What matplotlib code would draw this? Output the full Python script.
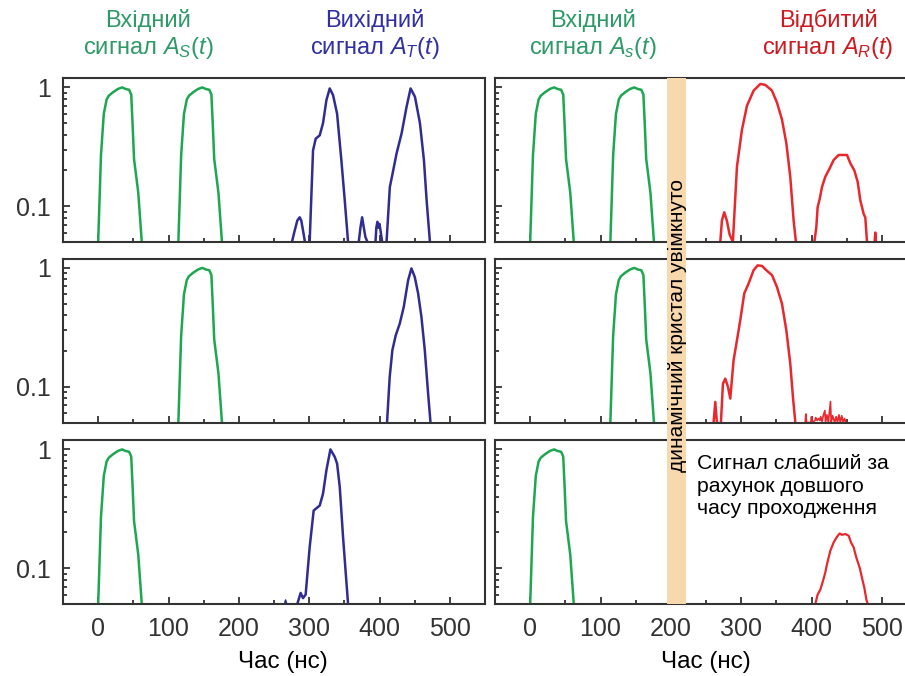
import matplotlib
matplotlib.use("Agg")
import matplotlib.pyplot as plt
import matplotlib.transforms as mtrans
from matplotlib.patches import Rectangle
from matplotlib.ticker import LogLocator, NullFormatter, FixedLocator

plt.rcParams['font.family'] = ['Liberation Sans', 'DejaVu Sans']
plt.rcParams['mathtext.fontset'] = 'custom'
plt.rcParams['mathtext.rm'] = 'Liberation Sans'
plt.rcParams['mathtext.it'] = 'Liberation Sans:italic'

# ---- data (time in ns, normalised amplitude) ----
# input pulses
green_t_a = [0, 4, 8, 12, 15, 21, 28, 34, 39, 44, 47, 49, 51, 57, 62]
green_y_a = [0.05, 0.27, 0.6, 0.79, 0.85, 0.91, 0.97, 1.0, 0.97, 0.955, 0.87, 0.48, 0.25, 0.13, 0.05]
green_t_b = [114, 118, 122, 126, 129, 135, 142, 148, 153, 158, 161, 163, 165, 171, 176]
green_y_b = [0.05, 0.27, 0.6, 0.79, 0.85, 0.91, 0.97, 1.0, 0.97, 0.955, 0.87, 0.48, 0.25, 0.13, 0.05]

# transmitted, row 1
blue1_t_main = [300.7, 305.5, 309.3, 315, 319.7, 324.5, 329.2, 334, 339.7, 345.8, 350.6, 355.3]
blue1_y_main = [0.05, 0.295, 0.37, 0.395, 0.50, 0.78, 0.98, 0.86, 0.60, 0.243, 0.112, 0.05]
blue1_t_second = [410, 414.7, 418.5, 424.2, 431.4, 438.5, 444.2, 450.4, 457.5, 463.2, 467, 471.7]
blue1_y_second = [0.05, 0.145, 0.187, 0.277, 0.41, 0.687, 0.98, 0.834, 0.50, 0.243, 0.112, 0.05]
blue1_t_bump1 = [275.5, 279.3, 283.1, 286.5, 288.8, 292.2, 294]
blue1_y_bump1 = [0.05, 0.062, 0.0757, 0.0807, 0.0757, 0.058, 0.05]
blue1_t_bump2 = [370.5, 372.9, 375.3, 377.7, 380, 382.9]
blue1_y_bump2 = [0.05, 0.066, 0.0807, 0.066, 0.055, 0.05]
blue1_t_bump3 = [394.3, 395.5, 397, 398.5, 400, 401.5, 403.8]
blue1_y_bump3 = [0.05, 0.066, 0.074, 0.066, 0.071, 0.062, 0.05]

# transmitted, row 2
blue2_t = [410.7, 414.5, 418.3, 423.1, 428.8, 434.5, 440.7, 445.4, 450.1, 454.9, 459.6, 464.4, 469.1, 472.5]
blue2_y = [0.05, 0.121, 0.203, 0.271, 0.34, 0.47, 0.787, 0.99, 0.84, 0.61, 0.387, 0.203, 0.0877, 0.05]

# transmitted, row 3
blue3_t = [283.1, 287.9, 291.2, 295, 300.7, 306.4, 315, 319.7, 324.5, 330.2, 336.3, 339.7, 343.5, 348.2, 355.3]
blue3_y = [0.05, 0.062, 0.056, 0.060, 0.15, 0.306, 0.337, 0.424, 0.668, 1.0, 0.867, 0.76, 0.483, 0.182, 0.05]
blue3_t_blip = [265, 266.5, 268]
blue3_y_blip = [0.05, 0.054, 0.05]

# reflected, row 1
red1_t_main = [270.3, 272.6, 275.9, 279.7, 283.5, 288.2, 294, 301.1, 308.2, 317.7, 327.2, 334.3,
               343.8, 350.9, 358, 364.2, 369.8, 374.6, 377.9]
red1_y_main = [0.05, 0.0755, 0.089, 0.0755, 0.058, 0.05, 0.215, 0.44, 0.70, 0.94, 1.07, 1.05,
               0.94, 0.745, 0.537, 0.34, 0.177, 0.0755, 0.05]
red1_t_second = [404, 406.8, 408.7, 411.6, 414.9, 419.6, 425.8, 431.5, 438.6, 450.5, 455.2,
                 460.9, 465.7, 469.4, 474.2, 476.5, 478.9]
red1_y_second = [0.05, 0.066, 0.098, 0.115, 0.145, 0.177, 0.208, 0.245, 0.27, 0.27, 0.23,
                 0.20, 0.16, 0.112, 0.086, 0.0805, 0.05]
red1_t_spike = [489.8, 490.7, 491.5]
red1_y_spike = [0.05, 0.06, 0.05]

# reflected, row 2
red2_t_spike = [260.8, 263.2, 265.5]
red2_y_spike = [0.05, 0.0745, 0.05]
red2_t_main = [271.2, 274.1, 277.4, 281.2, 284.5, 289.2, 294, 298.7, 304.4, 310.6, 317.7, 323.4,
               329.5, 335.7, 343.8, 350.9, 358, 364.2, 369.8, 373.6, 377]
red2_y_main = [0.05, 0.106, 0.117, 0.1, 0.0795, 0.167, 0.246, 0.363, 0.61, 0.74, 0.957, 1.05,
               1.04, 0.957, 0.87, 0.69, 0.5, 0.299, 0.157, 0.082, 0.05]
red2_t_noise = [391, 392, 393, 399, 400, 401, 405, 406, 408, 410, 412, 413, 415, 417, 419, 420,
                422, 424, 427, 428, 430, 433, 435, 437, 439, 441, 443, 445, 447, 449]
red2_y_noise = [0.05, 0.059, 0.05, 0.05, 0.056, 0.05, 0.052, 0.055, 0.052, 0.054, 0.052, 0.056,
                0.051, 0.058, 0.063, 0.05, 0.058, 0.05, 0.075, 0.05, 0.057, 0.05, 0.056, 0.05,
                0.058, 0.05, 0.057, 0.05, 0.054, 0.05]

# reflected, row 3
red3_t = [405.4, 408.7, 412.5, 416.3, 419.6, 422, 426.7, 431.5, 436.2, 440, 443.3, 448.1, 452.8,
          456.1, 459.9, 463.7, 468.5, 471.8, 475.1, 478, 479.9]
red3_y = [0.05, 0.060, 0.066, 0.078, 0.092, 0.108, 0.14, 0.165, 0.184, 0.196, 0.191, 0.194,
          0.188, 0.165, 0.15, 0.123, 0.101, 0.083, 0.0685, 0.0546, 0.05]

x_ticks = [0, 100, 200, 300, 400, 500]
crystal_on = (195, 222)

GREEN = '#1ea650'
BLUE = '#302c92'
RED = '#e8282d'

W, H = 905, 676
fig = plt.figure(figsize=(W / 100, H / 100), dpi=100)

col_left = [63, 495]
col_w = 422
row_top = [78, 258.5, 440]
row_h = 164

axes = []
for r in range(3):
    row = []
    for c in range(2):
        ax = fig.add_axes([col_left[c] / W, 1 - (row_top[r] + row_h) / H, col_w / W, row_h / H])
        ax.set_yscale('log')
        ax.set_ylim(0.05, 1.2)
        ax.set_xlim(-50, 550)
        ax.xaxis.set_major_locator(FixedLocator(x_ticks))
        ax.xaxis.set_minor_locator(FixedLocator([50, 150, 250, 350, 450]))
        ax.yaxis.set_major_locator(FixedLocator([0.1, 1]))
        ax.yaxis.set_minor_locator(LogLocator(base=10, subs=range(2, 10)))
        ax.yaxis.set_minor_formatter(NullFormatter())
        ax.tick_params(which='both', direction='in', top=False, right=False,
                       colors='#333333', labelsize=18, width=1.3)
        ax.tick_params(which='major', length=5, pad=9)
        ax.tick_params(which='minor', length=3)
        ax.set_yticklabels(['0.1', '1'])
        for s in ax.spines.values():
            s.set_linewidth(1.5)
            s.set_color('#333333')
        if r < 2:
            ax.tick_params(labelbottom=False)
        if c == 1:
            ax.tick_params(labelleft=False)
        row.append(ax)
    axes.append(row)

lw = 1.8
# row 1
axes[0][0].plot(green_t_a, green_y_a, color=GREEN, lw=lw)
axes[0][0].plot(green_t_b, green_y_b, color=GREEN, lw=lw)
for t, y in [(blue1_t_main, blue1_y_main), (blue1_t_second, blue1_y_second),
             (blue1_t_bump1, blue1_y_bump1), (blue1_t_bump2, blue1_y_bump2),
             (blue1_t_bump3, blue1_y_bump3)]:
    axes[0][0].plot(t, y, color=BLUE, lw=lw)
axes[0][1].plot(green_t_a, green_y_a, color=GREEN, lw=lw)
axes[0][1].plot(green_t_b, green_y_b, color=GREEN, lw=lw)
for t, y in [(red1_t_main, red1_y_main), (red1_t_second, red1_y_second), (red1_t_spike, red1_y_spike)]:
    axes[0][1].plot(t, y, color=RED, lw=lw)

# row 2
axes[1][0].plot(green_t_b, green_y_b, color=GREEN, lw=lw)
axes[1][0].plot(blue2_t, blue2_y, color=BLUE, lw=lw)
axes[1][1].plot(green_t_b, green_y_b, color=GREEN, lw=lw)
axes[1][1].plot(red2_t_spike, red2_y_spike, color=RED, lw=lw)
axes[1][1].plot(red2_t_main, red2_y_main, color=RED, lw=lw)
axes[1][1].plot(red2_t_noise, red2_y_noise, color=RED, lw=1.2)

# row 3
axes[2][0].plot(green_t_a, green_y_a, color=GREEN, lw=lw)
axes[2][0].plot(blue3_t, blue3_y, color=BLUE, lw=lw)
axes[2][0].plot(blue3_t_blip, blue3_y_blip, color=BLUE, lw=1.2)
axes[2][1].plot(green_t_a, green_y_a, color=GREEN, lw=lw)
axes[2][1].plot(red3_t, red3_y, color=RED, lw=1.6)

# crystal band across the right column
band_tr = mtrans.blended_transform_factory(axes[0][1].transData, fig.transFigure)
y0 = 1 - (row_top[2] + row_h) / H
y1 = 1 - row_top[0] / H
fig.patches.append(Rectangle((crystal_on[0], y0), crystal_on[1] - crystal_on[0], y1 - y0,
                             transform=band_tr, facecolor='#f8d9ae', edgecolor='none', zorder=5))
fig.text(677 / W, 1 - 326 / H, 'динамічний кристал увімкнуто', rotation=90,
         ha='center', va='center', fontsize=15, color='black', zorder=6)

# titles
title_fs = 17
fig.text(148 / W, 1 - 35 / H, 'Вхідний\nсигнал $A_S(t)$', ha='center', va='center',
         fontsize=title_fs, color='#2e9a68', linespacing=1.15)
fig.text(375 / W, 1 - 35 / H, 'Вихідний\nсигнал $A_T(t)$', ha='center', va='center',
         fontsize=title_fs, color='#3030a4', linespacing=1.15)
fig.text(593 / W, 1 - 35 / H, 'Вхідний\nсигнал $A_s(t)$', ha='center', va='center',
         fontsize=title_fs, color='#2e9a68', linespacing=1.15)
fig.text(828 / W, 1 - 35 / H, 'Відбитий\nсигнал $A_R(t)$', ha='center', va='center',
         fontsize=title_fs, color='#cc1a20', linespacing=1.15)

fig.text(697 / W, 1 - 486 / H, 'Сигнал слабший за\nрахунок довшого\nчасу проходження',
         ha='left', va='center', fontsize=15.3, color='black', linespacing=1.25)

fig.text(283 / W, 1 - 662 / H, 'Час (нс)', ha='center', va='center', fontsize=17.5, color='black')
fig.text(706 / W, 1 - 662 / H, 'Час (нс)', ha='center', va='center', fontsize=17.5, color='black')

fig.savefig('out.png', dpi=100)
